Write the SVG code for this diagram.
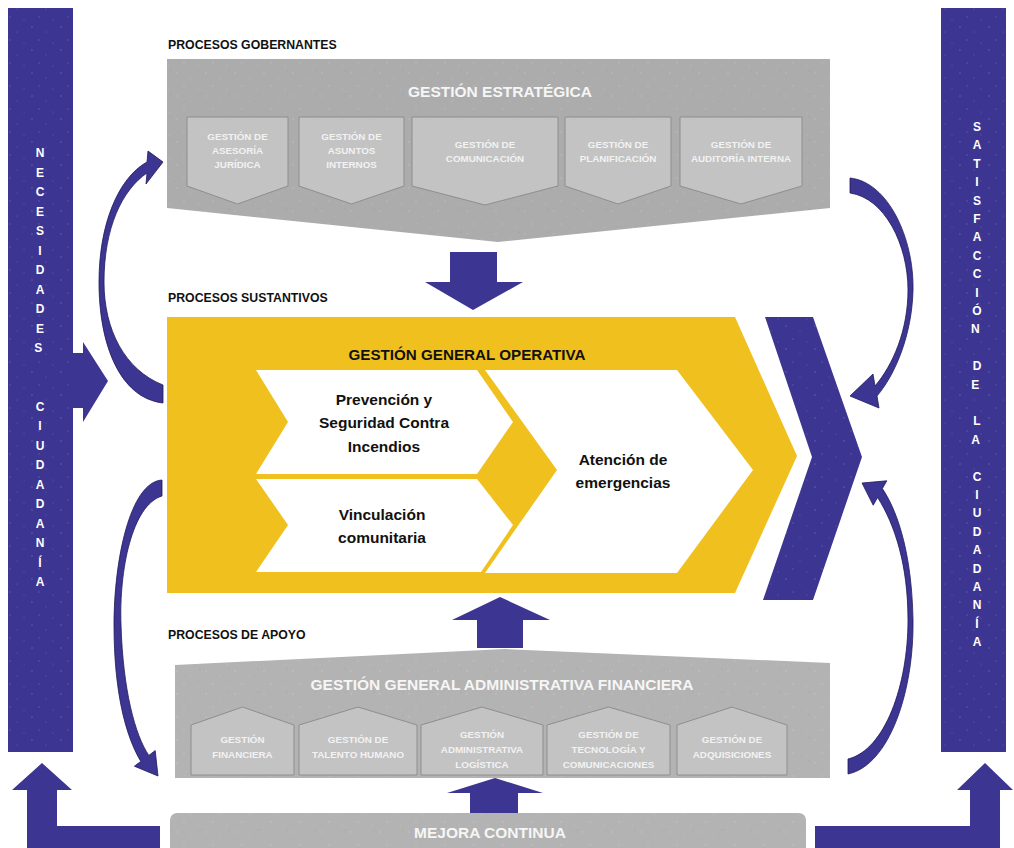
<svg xmlns="http://www.w3.org/2000/svg" width="1014" height="848" viewBox="0 0 1014 848">
<defs>
<style>
.blue{fill:#3d3592}
.curve{fill:#3d3592;stroke:#1f1a5a;stroke-width:0.8}
.gray{fill:#acacac}
.gray2{fill:#b3b3b3}
.sub{fill:#c3c3c3;stroke:#8e8e8e;stroke-width:1}
.yellow{fill:#f0c01e}
.white{fill:#ffffff}
.sec{font-family:"Liberation Sans",Arial,sans-serif;font-weight:bold;font-size:12.3px;fill:#111}
.ttl{font-family:"Liberation Sans",Arial,sans-serif;font-weight:bold;font-size:15.5px;fill:#f6f6f6;text-anchor:middle}
.st{font-family:"Liberation Sans",Arial,sans-serif;font-weight:bold;font-size:9.8px;fill:#f2f2f2;text-anchor:middle}
.main{font-family:"Liberation Sans",Arial,sans-serif;font-weight:bold;font-size:15.5px;fill:#111;text-anchor:middle}
.mt{font-family:"Liberation Sans",Arial,sans-serif;font-weight:bold;font-size:15.2px;fill:#111;text-anchor:middle}
.vt{font-family:"Liberation Sans",Arial,sans-serif;font-weight:bold;font-size:12px;fill:#ffffff;text-anchor:middle}
</style>
<pattern id="speck" width="29" height="23" patternUnits="userSpaceOnUse">
<circle cx="3" cy="4" r="0.7" fill="#ffffff" opacity="0.25"/>
<circle cx="17" cy="9" r="0.6" fill="#ffffff" opacity="0.2"/>
<circle cx="10" cy="17" r="0.7" fill="#ffffff" opacity="0.2"/>
<circle cx="24" cy="20" r="0.5" fill="#ffffff" opacity="0.25"/>
<circle cx="26" cy="2" r="0.5" fill="#000000" opacity="0.12"/>
</pattern>
</defs>
<rect width="1014" height="848" fill="#ffffff"/>

<!-- Side columns -->
<g id="necesidades">
<rect class="blue" x="8" y="8" width="65" height="744"/>
<path class="blue" d="M72,353 L83,353 L83,342 L108,381 L83,422 L83,408 L72,408 Z"/>
<rect x="8" y="8" width="65" height="744" fill="url(#speck)"/>
<text class="vt">
<tspan x="40" y="157">N</tspan><tspan x="40" y="176.5">E</tspan><tspan x="40" y="196">C</tspan><tspan x="40" y="215.5">E</tspan><tspan x="40" y="235">S</tspan><tspan x="40" y="254.5">I</tspan><tspan x="40" y="274">D</tspan><tspan x="40" y="293.5">A</tspan><tspan x="40" y="313">D</tspan><tspan x="40" y="332.5">E</tspan><tspan x="40" y="352">S</tspan>
<tspan x="40" y="410.5">C</tspan><tspan x="40" y="430">I</tspan><tspan x="40" y="449.5">U</tspan><tspan x="40" y="469">D</tspan><tspan x="40" y="488.5">A</tspan><tspan x="40" y="508">D</tspan><tspan x="40" y="527.5">A</tspan><tspan x="40" y="547">N</tspan><tspan x="40" y="566.5">Í</tspan><tspan x="40" y="586">A</tspan>
</text>
</g>

<g id="satisfaccion">
<rect class="blue" x="941" y="8" width="65" height="744"/>
<rect x="941" y="8" width="65" height="744" fill="url(#speck)"/>
<text class="vt">
<tspan x="977" y="131">S</tspan><tspan x="977" y="149.4">A</tspan><tspan x="977" y="167.8">T</tspan><tspan x="977" y="186.2">I</tspan><tspan x="977" y="204.6">S</tspan><tspan x="977" y="223">F</tspan><tspan x="977" y="241.4">A</tspan><tspan x="977" y="259.8">C</tspan><tspan x="977" y="278.2">C</tspan><tspan x="977" y="296.6">I</tspan><tspan x="977" y="315">Ó</tspan><tspan x="977" y="333.4">N</tspan>
<tspan x="977" y="370.2">D</tspan><tspan x="977" y="388.6">E</tspan>
<tspan x="977" y="425.4">L</tspan><tspan x="977" y="443.8">A</tspan>
<tspan x="977" y="480.6">C</tspan><tspan x="977" y="499">I</tspan><tspan x="977" y="517.4">U</tspan><tspan x="977" y="535.8">D</tspan><tspan x="977" y="554.2">A</tspan><tspan x="977" y="572.6">D</tspan><tspan x="977" y="591">A</tspan><tspan x="977" y="609.4">N</tspan><tspan x="977" y="627.8">Í</tspan><tspan x="977" y="646.2">A</tspan>
</text>
</g>

<!-- Section labels -->
<g id="labels">
<text class="sec" x="168" y="49">PROCESOS GOBERNANTES</text>
<text class="sec" x="168" y="302">PROCESOS SUSTANTIVOS</text>
<text class="sec" x="168" y="639">PROCESOS DE APOYO</text>
</g>

<!-- Gobernantes -->
<g id="gestion-estrategica">
<path class="gray" d="M167,59 L830,59 L830,208 L498,242 L167,208 Z"/>
<path d="M167,59 L830,59 L830,208 L498,242 L167,208 Z" fill="url(#speck)"/>
<text class="ttl" x="500" y="97">GESTIÓN ESTRATÉGICA</text>
<g id="g-asesoria">
<path class="sub" d="M187,117 L288,117 L288,186 L237.5,204 L187,186 Z"/>
<text class="st"><tspan x="237.5" y="140">GESTIÓN DE</tspan><tspan x="237.5" y="154">ASESORÍA</tspan><tspan x="237.5" y="168">JURÍDICA</tspan></text>
</g>
<g id="g-asuntos">
<path class="sub" d="M299,117 L404,117 L404,186 L351.5,204 L299,186 Z"/>
<text class="st"><tspan x="351.5" y="140">GESTIÓN DE</tspan><tspan x="351.5" y="154">ASUNTOS</tspan><tspan x="351.5" y="168">INTERNOS</tspan></text>
</g>
<g id="g-comunicacion">
<path class="sub" d="M412,117 L558,117 L558,186 L485,205 L412,186 Z"/>
<text class="st"><tspan x="485" y="148">GESTIÓN DE</tspan><tspan x="485" y="162">COMUNICACIÓN</tspan></text>
</g>
<g id="g-planificacion">
<path class="sub" d="M565,117 L671,117 L671,186 L618,204 L565,186 Z"/>
<text class="st"><tspan x="618" y="148">GESTIÓN DE</tspan><tspan x="618" y="162">PLANIFICACIÓN</tspan></text>
</g>
<g id="g-auditoria">
<path class="sub" d="M680,117 L802,117 L802,186 L741,204 L680,186 Z"/>
<text class="st"><tspan x="741" y="148">GESTIÓN DE</tspan><tspan x="741" y="162">AUDITORÍA INTERNA</tspan></text>
</g>
</g>

<!-- Sustantivos -->
<g id="gestion-operativa">
<path class="yellow" d="M167,317 L735,317 L797,456 L735,593 L167,593 Z"/>
<text class="mt" x="467" y="360">GESTIÓN GENERAL OPERATIVA</text>
<g id="prevencion">
<path class="white" d="M256,370 L477,370 L513,422 L477,474 L256,474 L288,422 Z"/>
<text class="main"><tspan x="384" y="405">Prevención y</tspan><tspan x="384" y="428">Seguridad Contra</tspan><tspan x="384" y="452">Incendios</tspan></text>
</g>
<g id="vinculacion">
<path class="white" d="M256,479 L477,479 L513,525 L481,572 L256,572 L288,525 Z"/>
<text class="main"><tspan x="382" y="520">Vinculación</tspan><tspan x="382" y="543">comunitaria</tspan></text>
</g>
<g id="atencion">
<path class="white" d="M485,370 L677,370 L753,470 L677,573 L485,573 L557,470 Z"/>
<text class="main"><tspan x="623" y="465">Atención de</tspan><tspan x="623" y="488">emergencias</tspan></text>
</g>
</g>

<g id="chevron">
<path class="blue" d="M765,317 L813,317 L862,457 L813,600 L763,600 L812,457 Z"/>
<path d="M765,317 L813,317 L862,457 L813,600 L763,600 L812,457 Z" fill="url(#speck)"/>
</g>

<!-- Apoyo -->
<g id="gestion-administrativa">
<path class="gray2" d="M175,665 L505,649 L830,663 L830,778 L175,778 Z"/>
<path d="M175,665 L505,649 L830,663 L830,778 L175,778 Z" fill="url(#speck)"/>
<text class="ttl" x="502" y="690">GESTIÓN GENERAL ADMINISTRATIVA FINANCIERA</text>
<g id="a-financiera">
<path class="sub" d="M191,725 L242.5,707 L294,725 L294,775 L191,775 Z"/>
<text class="st"><tspan x="242.5" y="743">GESTIÓN</tspan><tspan x="242.5" y="758">FINANCIERA</tspan></text>
</g>
<g id="a-talento">
<path class="sub" d="M299,725 L358,707 L417,725 L417,775 L299,775 Z"/>
<text class="st"><tspan x="358" y="743">GESTIÓN DE</tspan><tspan x="358" y="758">TALENTO HUMANO</tspan></text>
</g>
<g id="a-logistica">
<path class="sub" d="M421,725 L482,707 L543,725 L543,775 L421,775 Z"/>
<text class="st"><tspan x="482" y="738">GESTIÓN</tspan><tspan x="482" y="753">ADMINISTRATIVA</tspan><tspan x="482" y="768">LOGÍSTICA</tspan></text>
</g>
<g id="a-tecnologia">
<path class="sub" d="M547,725 L608.5,707 L670,725 L670,775 L547,775 Z"/>
<text class="st"><tspan x="608.5" y="738">GESTIÓN DE</tspan><tspan x="608.5" y="753">TECNOLOGÍA Y</tspan><tspan x="608.5" y="768">COMUNICACIONES</tspan></text>
</g>
<g id="a-adquisiciones">
<path class="sub" d="M677,725 L732,707 L787,725 L787,775 L677,775 Z"/>
<text class="st"><tspan x="732" y="743">GESTIÓN DE</tspan><tspan x="732" y="758">ADQUISICIONES</tspan></text>
</g>
</g>

<g id="mejora-continua">
<rect class="gray2" x="170" y="813" width="636" height="50" rx="7"/>
<rect x="170" y="813" width="636" height="50" rx="7" fill="url(#speck)"/>
<text class="ttl" x="490" y="838">MEJORA CONTINUA</text>
</g>

<!-- Connectors -->
<g id="connectors">
<path class="blue" d="M450,252 L497,252 L497,282 L523,282 L473,310 L425,282 L450,282 Z"/>
<path class="blue" d="M477,648 L523,648 L523,620 L550,620 L500,597 L452,620 L477,620 Z"/>
<path class="blue" d="M470,813 L518,813 L518,793 L543,793 L495,778 L447,793 L470,793 Z"/>
<path class="blue" d="M27,848 L27,790 L12,790 L42,763 L72,790 L57,790 L57,826 L160,826 L160,848 Z"/>
<path class="blue" d="M1000,848 L1000,790 L1013,790 L985,763 L957,790 L970,790 L970,826 L815,826 L815,848 Z"/>
<path class="curve" d="M163,385 C125,370 104,330 104,282 C104,228 122,190 147,173 L146,184 L163,162 L148,151 L147,162 C118,178 99,225 99,282 C99,345 120,398 163,403 Z"/>
<path class="curve" d="M162,496 C132,505 119,570 121,625 C123,690 135,735 148.8,755.4 L155.2,750.6 L158,776 L134.4,766.2 L140.8,761.4 C125,735 114,690 114,625 C114,560 130,482 162,480 Z"/>
<path class="curve" d="M850,178 C888,182 914,238 913,290 C912,335 895,375 877,396 L879,408 L850,396 L873,374 L875,386 C893,365 908,330 908,290 C908,245 885,198 850,193 Z"/>
<path class="curve" d="M848,774 C890,765 914,690 913,620 C912,560 900,515 882.4,488.6 L886.8,480.8 L862,483 L873.2,505.2 L877.6,497.4 C895,525 908,565 908,620 C908,685 885,750 848,759 Z"/>
</g>
</svg>
